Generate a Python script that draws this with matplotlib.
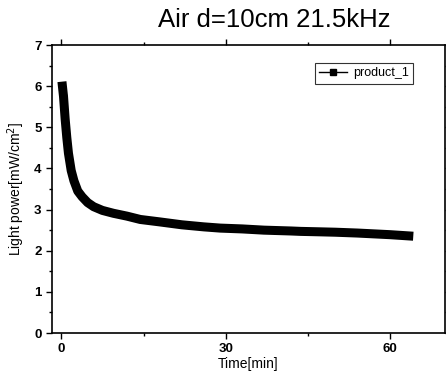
import matplotlib
matplotlib.use('Agg')
import matplotlib.pyplot as plt
from matplotlib.ticker import MultipleLocator

plt.rcParams['font.family'] = ['Liberation Sans', 'DejaVu Sans']

# Data
time_min = [0.2, 0.4, 0.7, 1.0, 1.3, 1.8, 2.3, 3.0, 3.8, 4.8, 5.9, 7.5, 9.5,
            12.0, 14.4, 18.0, 22.0, 26.0, 29.0, 33.0, 37.0, 41.9, 43.7,
            47.0, 50.0, 54.0, 57.0, 60.0, 63.4]
light_power = [6.0, 5.75, 5.2, 4.75, 4.37, 3.95, 3.7, 3.45, 3.31, 3.17, 3.07,
               2.98, 2.91, 2.84, 2.76, 2.70, 2.63, 2.58, 2.55, 2.53, 2.50,
               2.48, 2.47, 2.46, 2.45, 2.43, 2.41, 2.39, 2.36]

fig = plt.figure(figsize=(4.46, 3.83), dpi=100)
ax = fig.add_axes([0.1166, 0.1305, 0.881, 0.752])

ax.plot(time_min, light_power, color='black', lw=6.5, marker='s', ms=3.5,
        solid_capstyle='projecting', solid_joinstyle='round',
        label='product_1')

ax.set_xlim(-1.7, 70)
ax.set_ylim(0, 7)
ax.xaxis.set_major_locator(MultipleLocator(30))
ax.xaxis.set_minor_locator(MultipleLocator(15))
ax.yaxis.set_major_locator(MultipleLocator(1))
ax.yaxis.set_minor_locator(MultipleLocator(0.5))
ax.tick_params(which='both', direction='out', top=True, right=True,
               labelsize=9.5, width=1)
ax.tick_params(which='major', length=4)
ax.tick_params(which='minor', length=2)
for lbl in ax.get_xticklabels() + ax.get_yticklabels():
    lbl.set_fontweight('bold')
for sp in ax.spines.values():
    sp.set_linewidth(1.2)

ax.set_xlabel('Time[min]', fontsize=10, labelpad=1)
ax.set_ylabel('Light power[mW/cm$^2$]', fontsize=10, labelpad=5)

leg = ax.legend(loc='upper right', fontsize=9, frameon=True, fancybox=False,
                edgecolor='black', handlelength=2.2, borderpad=0.35,
                handletextpad=0.5, bbox_to_anchor=(0.935, 0.96))
leg.get_frame().set_linewidth(0.8)
for h in leg.get_lines():
    h.set_linewidth(1)
    h.set_markersize(4.5)

fig.text(274 / 446, 1 - 20 / 383, 'Air d=10cm 21.5kHz', fontsize=18.5,
         ha='center', va='center')

plt.savefig('out.png', dpi=100)
